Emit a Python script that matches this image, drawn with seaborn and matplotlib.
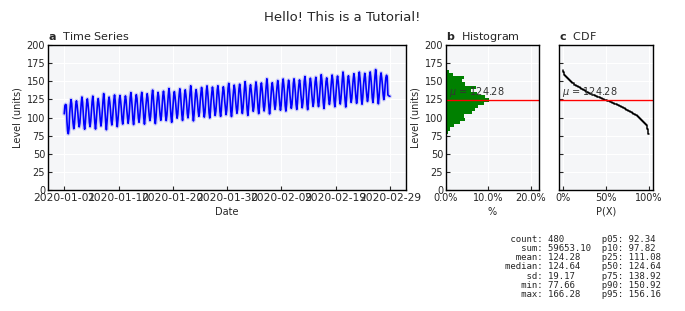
import numpy as np
import pandas as pd
import matplotlib
matplotlib.use("Agg")
import matplotlib.pyplot as plt
import matplotlib.dates as mdates
import matplotlib.patheffects as pe
from matplotlib.ticker import PercentFormatter, MultipleLocator
import seaborn as sns

# ---------------- data ----------------
start_date = "2020-01-01"
end_date = "2020-02-29"
n_points = 480

level = [
    105.2, 116.4, 118.1, 117.3, 94.6, 81.2, 77.66, 84.5,
    106.1, 117.5, 124.8, 119.0, 103.9, 92.3, 84.6, 90.8,
    104.8, 118.2, 123.1, 116.9, 106.8, 93.9, 87.2, 92.6,
    107.3, 119.8, 128.4, 121.1, 105.2, 90.7, 83.9, 92.5,
    105.9, 120.1, 125.8, 118.6, 107.9, 93.2, 87.4, 95.1,
    108.8, 122.0, 129.6, 120.4, 106.5, 92.8, 84.1, 94.2,
    107.4, 121.3, 126.2, 119.0, 109.3, 96.5, 88.3, 95.7,
    110.1, 122.9, 133.1, 124.6, 107.6, 93.4, 83.2, 94.9,
    108.7, 122.5, 128.3, 121.1, 110.8, 96.2, 89.8, 97.4,
    111.5, 124.6, 131.2, 123.0, 109.4, 95.7, 87.4, 97.1,
    109.9, 125.1, 130.5, 122.7, 112.0, 97.2, 91.0, 98.3,
    112.6, 122.8, 129.9, 124.2, 110.8, 100.4, 92.1, 98.7,
    111.4, 127.3, 134.5, 125.8, 113.5, 97.1, 90.3, 98.9,
    113.9, 124.7, 131.6, 126.2, 112.0, 99.6, 93.5, 101.2,
    112.7, 128.1, 134.8, 126.4, 114.6, 99.2, 90.9, 100.5,
    115.3, 125.4, 132.9, 127.0, 113.6, 102.9, 95.8, 101.4,
    114.1, 130.6, 137.9, 129.1, 115.8, 99.1, 91.6, 100.8,
    116.8, 127.3, 134.8, 128.9, 114.7, 103.6, 96.2, 102.1,
    115.5, 130.1, 136.4, 128.6, 117.4, 102.3, 95.8, 103.7,
    118.2, 130.5, 140.1, 132.0, 116.1, 101.7, 93.4, 103.2,
    116.9, 130.4, 135.8, 128.7, 118.8, 106.2, 99.1, 104.9,
    119.6, 131.3, 139.7, 133.0, 117.5, 103.8, 96.0, 105.2,
    118.2, 132.4, 138.3, 130.8, 120.1, 105.7, 99.6, 107.3,
    120.9, 133.8, 143.9, 135.5, 118.7, 105.2, 95.4, 104.8,
    119.5, 133.1, 138.6, 131.4, 121.6, 108.9, 101.7, 107.5,
    122.3, 133.4, 141.6, 135.1, 120.2, 108.5, 100.6, 107.2,
    121.0, 137.0, 143.8, 135.2, 122.9, 106.5, 99.4, 108.1,
    123.6, 134.2, 142.1, 136.0, 121.5, 110.6, 102.8, 108.9,
    122.2, 137.8, 143.9, 135.7, 124.3, 108.3, 101.6, 110.2,
    124.9, 135.0, 142.5, 136.8, 122.8, 112.6, 104.0, 110.7,
    123.6, 140.3, 147.2, 138.5, 125.7, 108.5, 101.4, 110.3,
    126.3, 136.9, 144.8, 138.6, 124.0, 113.4, 105.9, 111.6,
    125.0, 139.8, 146.1, 138.2, 126.9, 111.8, 105.6, 113.4,
    127.7, 139.8, 149.6, 141.5, 125.6, 111.0, 102.9, 112.6,
    126.4, 139.9, 145.3, 138.2, 128.3, 115.8, 108.6, 114.4,
    129.1, 140.8, 149.2, 142.5, 127.0, 113.2, 105.4, 114.7,
    127.7, 141.9, 147.8, 140.3, 129.6, 115.2, 109.1, 116.8,
    130.5, 143.4, 153.5, 145.1, 128.3, 114.8, 105.0, 114.4,
    129.0, 142.6, 148.1, 140.9, 131.1, 118.6, 111.4, 117.2,
    131.8, 142.9, 151.1, 144.6, 129.7, 118.0, 110.1, 116.7,
    130.5, 146.5, 153.3, 144.7, 132.4, 116.0, 108.9, 117.6,
    133.1, 143.7, 151.6, 145.5, 131.0, 120.4, 112.7, 118.4,
    131.8, 147.4, 153.5, 145.3, 133.9, 117.9, 111.2, 119.8,
    134.4, 144.5, 152.0, 146.3, 132.3, 122.1, 113.5, 120.2,
    133.1, 149.8, 156.7, 148.0, 135.2, 118.0, 110.9, 119.8,
    135.8, 146.4, 154.3, 148.1, 133.5, 122.9, 115.4, 121.1,
    134.5, 149.3, 155.6, 147.7, 136.4, 121.3, 115.1, 122.9,
    137.3, 149.4, 159.2, 151.1, 135.2, 120.6, 112.5, 122.2,
    135.9, 149.4, 154.8, 147.7, 137.8, 125.3, 118.1, 123.9,
    138.6, 150.3, 158.7, 152.0, 136.5, 122.7, 114.9, 124.2,
    137.2, 151.4, 157.3, 149.8, 139.1, 124.7, 118.6, 126.3,
    140.0, 152.9, 162.9, 154.6, 137.8, 124.3, 114.5, 123.9,
    138.6, 152.2, 157.7, 150.5, 140.7, 128.1, 120.9, 126.7,
    141.3, 152.4, 160.6, 154.1, 139.2, 127.5, 119.6, 126.2,
    140.0, 156.0, 162.8, 154.2, 141.9, 125.5, 118.4, 127.1,
    142.6, 153.2, 161.1, 155.0, 140.5, 129.9, 122.2, 127.9,
    141.3, 156.9, 163.0, 154.8, 143.4, 127.4, 120.7, 129.3,
    144.1, 157.3, 166.28, 158.3, 141.6, 128.1, 119.0, 128.3,
    142.7, 156.2, 161.6, 154.4, 144.6, 132.0, 124.8, 130.6,
    144.9, 155.1, 158.4, 156.0, 131.2, 130.4, 129.6, 129.3,
]

mean_value = 124.28
stat_names = ["count", "sum", "mean", "median", "sd", "min", "max"]
stat_values = ["480", "59653.10", "124.28", "124.64", "19.17", "77.66", "166.28"]
pct_names = ["p05", "p10", "p25", "p50", "p75", "p90", "p95"]
pct_values = ["92.34", "97.82", "111.08", "124.64", "138.92", "150.92", "156.16"]

# ---------------- style ----------------
sns.set_style("whitegrid", {
    "axes.facecolor": "#F5F6F8",
    "axes.edgecolor": "black",
    "grid.color": "white",
    "xtick.direction": "in",
    "ytick.direction": "in",
    "xtick.bottom": True,
    "ytick.left": True,
})
plt.rcParams.update({
    "font.family": ["DejaVu Sans"],
    "font.size": 7,
    "xtick.labelsize": 7,
    "ytick.labelsize": 7,
    "axes.labelsize": 7,
    "axes.linewidth": 1.0,
    "grid.linewidth": 0.8,
    "xtick.major.size": 3,
    "ytick.major.size": 3,
    "xtick.major.pad": 2,
    "ytick.major.pad": 2,
    "axes.labelpad": 3,
})

dates = pd.date_range(start_date, end_date, periods=n_points)
df = pd.DataFrame({"date": dates, "level": level})

fig = plt.figure(figsize=(6.85, 3.11), dpi=100)
ax_a = fig.add_axes([0.070, 0.389, 0.523, 0.466])
ax_b = fig.add_axes([0.651, 0.389, 0.136, 0.466])
ax_c = fig.add_axes([0.816, 0.389, 0.137, 0.466])

# ---- a: time series
sns.lineplot(data=df, x="date", y="level", ax=ax_a, color="blue", lw=1.2,
             path_effects=[pe.Stroke(linewidth=3.0, foreground="#cfcff8"), pe.Normal()])
ax_a.set_xticks(pd.date_range(start_date, end_date, periods=7))
ax_a.xaxis.set_major_formatter(mdates.DateFormatter("%Y-%m-%d"))
ax_a.tick_params(axis="x", labelsize=7.7)
ax_a.set_xlabel("Date")
ax_a.set_ylabel("Level (units)")
ax_a.set_title(r"$\mathbf{a}$  Time Series", loc="left", fontsize=8, pad=4)

# ---- b: histogram
sns.histplot(data=df, y="level", stat="percent", bins=20, color="green",
             alpha=1, linewidth=0, ax=ax_b)
ax_b.set_xlim(0, 22)
ax_b.set_xticks([0, 10, 20])
ax_b.xaxis.set_major_formatter(PercentFormatter(xmax=100, decimals=1))
ax_b.set_xlabel("%")
ax_b.set_ylabel("Level (units)")
ax_b.set_title(r"$\mathbf{b}$  Histogram", loc="left", fontsize=8, pad=4)

# ---- c: CDF
sns.ecdfplot(data=df, y="level", complementary=True, color="black", lw=1.1, ax=ax_c)
ax_c.set_xlim(-0.05, 1.05)
ax_c.set_xticks([0, 0.5, 1])
ax_c.xaxis.set_major_formatter(PercentFormatter(xmax=1, decimals=0))
ax_c.set_xlabel("P(X)")
ax_c.set_ylabel("")
ax_c.tick_params(axis="y", labelleft=False)
ax_c.set_title(r"$\mathbf{c}$  CDF", loc="left", fontsize=8, pad=4)

for ax in (ax_a, ax_b, ax_c):
    ax.set_ylim(0, 200)
    ax.yaxis.set_major_locator(MultipleLocator(25))
    for s in ax.spines.values():
        s.set_color("black")
        s.set_linewidth(1.0)

for ax in (ax_b, ax_c):
    ax.axhline(mean_value, color="red", lw=1.0)
    ax.text(0.03, mean_value + 2, r"$\mu$ = %.2f" % mean_value, color="#333333",
            fontsize=7, ha="left", va="bottom",
            transform=ax.get_yaxis_transform())

fig.suptitle("Hello! This is a Tutorial!", fontsize=9.5, y=0.965)

lines = [f"{k:>6}: {v:<10}{pk}: {pv}" for k, v, pk, pv in
         zip(stat_names, stat_values, pct_names, pct_values)]
fig.text(505 / 685, 1 - 235 / 311, "\n".join(lines), family="DejaVu Sans Mono",
         fontsize=6.5, ha="left", va="top", linespacing=1.02)

fig.savefig("out.png", dpi=100)
